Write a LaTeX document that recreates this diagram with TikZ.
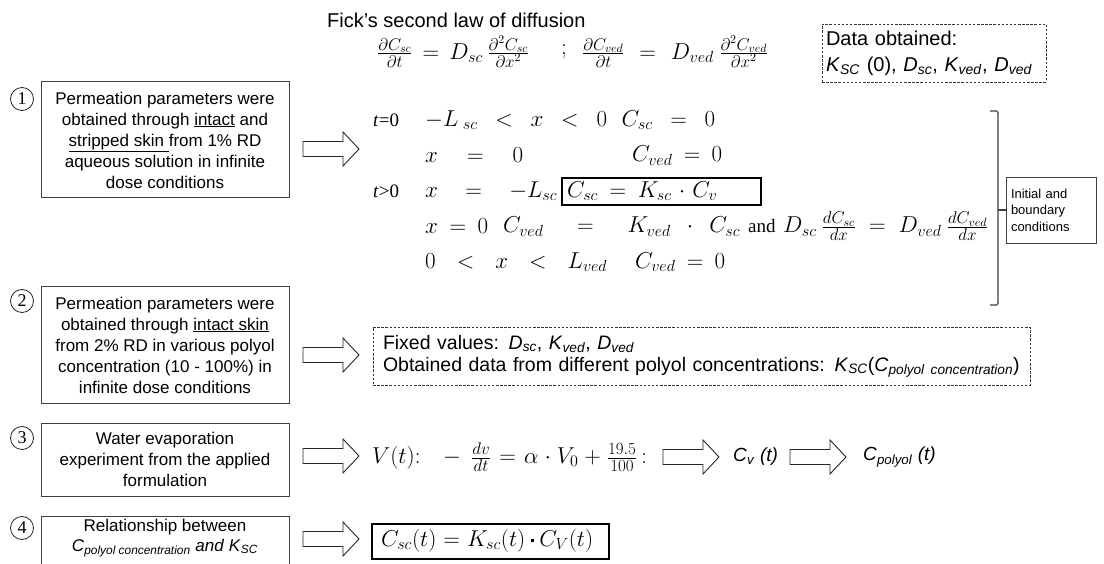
\RequirePackage{fix-cm}
\documentclass[tikz,border=0pt]{standalone}
\usepackage[no-math]{fontspec}
\setmainfont{Liberation Sans}
\newfontfamily\serif{Liberation Serif}
\newcommand{\mfs}{\fontsize{23}{27}\selectfont}
\newcommand{\ffs}{\fontsize{17}{19}\selectfont}
\newcommand{\fr}[2]{\frac{\hbox{\ffs$#1$}}{\hbox{\ffs$#2$}}}
\newcommand{\hb}[2]{\hbox to #1{\thickmuskip=5mu plus 30mu\medmuskip=4mu plus 12mu\thinmuskip=3mu plus 6mu\relax$#2$}}
\newcommand{\sqdot}{\mathbin{\vcenter{\hbox{\rule{3.4pt}{3.4pt}}}}}
\newcommand{\isub}[2]{\textit{#1}\textsubscript{\textit{#2}}}
\begin{document}
\begin{tikzpicture}[x=1pt,y=-1pt,
  box/.style={draw=black!75, line width=1pt, inner sep=0pt, align=center, minimum width=248pt, font=\fontsize{17}{21}\selectfont},
  circ/.style={draw=black!85, circle, line width=0.8pt, minimum size=23pt, inner sep=0pt, font=\serif\fontsize{18}{18}\selectfont},
  dbox/.style={draw=black!80, dash pattern=on 2.5pt off 1.6pt, line width=0.8pt, inner ysep=0pt, align=left},
  mt/.style={inner sep=0pt, anchor=west, font=\mfs},
  st/.style={inner sep=0pt, anchor=west, font=\serif\fontsize{19}{19}\selectfont},
  arrowline/.style={draw=black!85, line width=0.9pt, fill=white, line join=miter},
  barrow/.pic={\path[arrowline] (0,-7.5) -- (40,-7.5) -- (40,-17) -- (56,0) -- (40,17) -- (40,7.5) -- (0,7.5) -- cycle;}
]
\useasboundingbox (0,0) rectangle (1104,564);
\fill[white] (0,0) rectangle (1104,564);

% left step boxes
\node[box, minimum height=116pt] (b1) at (165,140) {Permeation parameters were\\obtained through \underline{intact} and\\\underline{stripped skin }from 1\% RD\\aqueous solution in infinite\\dose conditions};
\node[box, minimum height=116pt] (b2) at (165,345) {Permeation parameters were\\obtained through \underline{intact skin}\\from 2\% RD in various polyol\\concentration (10 - 100\%) in\\infinite dose conditions};
\node[box, minimum height=73pt] (b3) at (165,459.5) {Water evaporation\\experiment from the applied\\formulation};
\node[box, minimum height=62pt, anchor=north] (b4) at (165,516) {};
\node[inner sep=0pt, align=center, font=\fontsize{17}{19.5}\selectfont] (b4t) at (165,538) {Relationship between\\\isub{C}{polyol concentration} \textit{and} \isub{K}{SC}};

\node[circ] (n1) at (22,99) {1};
\node[circ] (n2) at (22,301) {2};
\node[circ] (n3) at (22,438) {3};
\node[circ] (n4) at (22,528) {4};

% block arrows
\pic at (303,149) {barrow};
\pic at (303,355) {barrow};
\pic at (303,456) {barrow};
\pic at (303,539) {barrow};
\pic at (663,457) {barrow};
\pic at (790,457) {barrow};

% Fick's law
\node[inner sep=0pt, anchor=west, font=\fontsize{20}{24}\selectfont] (fick) at (327,20) {Fick’s second law of diffusion};
\node[mt] (eq1) at (377,52) {\hb{152pt}{\fr{\partial C_{sc}}{\partial t}=D_{sc}\,\fr{\partial^2 C_{sc}}{\partial x^2}}};
\node[mt] (semi) at (561,52) {$;$};
\node[mt] (eq2) at (582,52) {\hb{186pt}{\fr{\partial C_{ved}}{\partial t}=D_{ved}\,\fr{\partial^2 C_{ved}}{\partial x^2}}};

\node[dbox, minimum width=224pt, minimum height=58pt, text width=216pt, inner xsep=4pt, font=\fontsize{20}{26}\selectfont] (data) at (934,53) {Data obtained:\\\isub{K}{SC} (0), \isub{D}{sc}, \isub{K}{ved}, \isub{D}{ved}};

% initial and boundary conditions
\node[st] (t0) at (373,120) {\textit{t}=0};
\node[mt] (r1) at (425,120) {\hb{290pt}{-L_{\;sc}<x<0\ \ C_{sc}=0}};
\node[mt] (r2a) at (425,155.5) {\hb{98pt}{x=0}};
\node[mt] (r2b) at (632,155.5) {\hb{90pt}{C_{ved}=0}};
\node[st] (t1) at (373,191) {\textit{t}>0};
\node[mt] (r3a) at (425,191) {\hb{132pt}{x=-L_{sc}}};
\node[draw=black, line width=1.6pt, minimum width=199pt, minimum height=27pt, anchor=north west, inner sep=0pt] (kbox) at (561,177.5) {};
\node[mt] (r3b) at (567,191) {\hb{150pt}{C_{sc}=K_{sc}\cdot C_v}};
\node[mt] (r4a) at (425,226.5) {\hb{63pt}{x=0}};
\node[mt] (r4b) at (503,226.5) {\hb{237pt}{C_{ved}=K_{ved}\cdot C_{sc}}};
\node[st] (r4c) at (748,226.5) {and};
\node[mt] (r4d) at (783,226.5) {\hb{205pt}{D_{sc}\,\fr{dC_{sc}}{dx}=D_{ved}\,\fr{dC_{ved}}{dx}}};
\node[mt] (r5a) at (425,262) {\hb{182pt}{0<x<L_{ved}}};
\node[mt] (r5b) at (635,262) {\hb{90pt}{C_{ved}=0}};

\node[draw=black!75, line width=0.9pt, minimum width=90pt, minimum height=66pt, text width=80pt, inner xsep=5pt, inner ysep=0pt, align=left, font=\fontsize{13}{16.5}\selectfont] (ibc) at (1051,210) {Initial and\\boundary\\conditions};
\coordinate (brt) at (990,111);
\coordinate (brb) at (990,305);
\coordinate (brm) at (998,210);
\draw[black!75, line width=1.2pt, rounded corners=1.5pt] (brt) -- (998,111) -- (998,305) -- (brb);
\draw[black!75, line width=1.2pt] (brm) -- (ibc.west);

% row 2 result
\node[dbox, minimum width=657pt, minimum height=58pt, text width=637pt, inner xsep=10pt, font=\fontsize{19.5}{22}\selectfont] (fixed) at (701.5,356) {Fixed values: \isub{D}{sc}, \isub{K}{ved}, \isub{D}{ved}\\Obtained data from different polyol concentrations: \isub{K}{SC}(\isub{C}{polyol concentration})};

% row 3
\node[mt] (vt) at (372,457) {\hb{275pt}{V(t){:}\;\;-\,\fr{dv}{dt}=\alpha\cdot V_0+\fr{19.5}{100}\,{:}}};
\node[inner sep=0pt, anchor=west, font=\fontsize{19}{22}\selectfont] (cv) at (733,457) {\isub{C}{v} \textit{(t)}};
\node[inner sep=0pt, anchor=west, font=\fontsize{19}{22}\selectfont] (cp) at (863,457) {\isub{C}{polyol} \textit{(t)}};

% row 4
\node[draw=black, line width=1.6pt, minimum width=237pt, minimum height=35pt, anchor=north west, inner sep=0pt] (sbox) at (371,523) {};
\node[mt] (sc) at (381,540.5) {\hb{212pt}{C_{sc}(t)=K_{sc}(t)\sqdot C_V(t)}};
\end{tikzpicture}
\end{document}
